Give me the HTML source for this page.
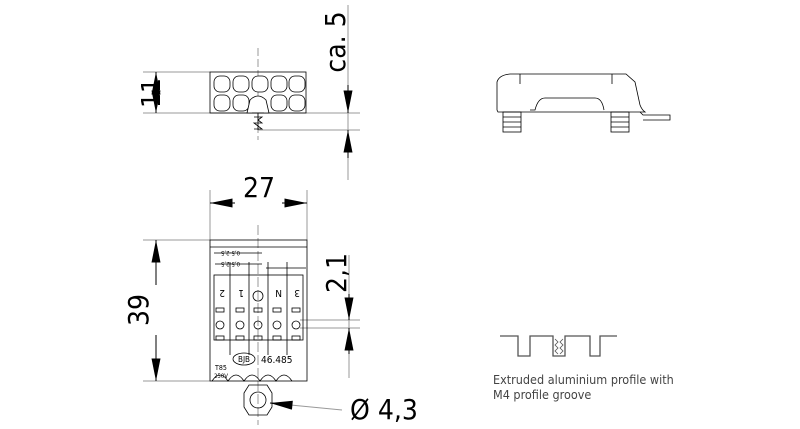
<!DOCTYPE html>
<html><head><meta charset="utf-8"><style>
html,body{margin:0;padding:0;background:#fff;}
svg{display:block;}
text{font-family:"DejaVu Sans Condensed","Liberation Sans",sans-serif;}
</style></head><body>
<svg width="800" height="429" viewBox="0 0 800 429" xmlns="http://www.w3.org/2000/svg">
<defs>
<marker id="a" viewBox="0 0 10 4" refX="10" refY="2" markerWidth="24" markerHeight="9" markerUnits="userSpaceOnUse" orient="auto"><path d="M0,0 L10,2 L0,4z" fill="#000"/></marker>
</defs>
<g stroke="#999" stroke-width="1" fill="none">
<line x1="143" y1="72" x2="210" y2="72"/>
<line x1="143" y1="113" x2="360" y2="113"/>
<line x1="258" y1="130" x2="360" y2="130"/>
<line x1="348" y1="5" x2="348" y2="180"/>
<line x1="258" y1="48" x2="258" y2="140" stroke-dasharray="8,3"/>
<line x1="210" y1="190" x2="210" y2="240"/>
<line x1="307" y1="190" x2="307" y2="240"/>
<line x1="143" y1="240" x2="210" y2="240"/>
<line x1="143" y1="381" x2="210" y2="381"/>
<line x1="349" y1="255" x2="349" y2="378"/>
<line x1="300" y1="320" x2="360" y2="320"/>
<line x1="300" y1="328" x2="360" y2="328"/>
<line x1="270" y1="403" x2="342" y2="410"/>
<line x1="258" y1="225" x2="258" y2="425" stroke-dasharray="10,3"/>
</g>
<g stroke="#000" stroke-width="1" fill="none">
<line x1="156" y1="90" x2="156" y2="72" marker-end="url(#a)"/>
<line x1="156" y1="95" x2="156" y2="113" marker-end="url(#a)"/>
<line x1="348" y1="85" x2="348" y2="113" marker-end="url(#a)"/>
<line x1="348" y1="158" x2="348" y2="130" marker-end="url(#a)"/>
<line x1="235" y1="203" x2="210" y2="203" marker-end="url(#a)"/>
<line x1="282" y1="203" x2="307" y2="203" marker-end="url(#a)"/>
<line x1="156" y1="285" x2="156" y2="240" marker-end="url(#a)"/>
<line x1="156" y1="335" x2="156" y2="381" marker-end="url(#a)"/>
<line x1="349" y1="294" x2="349" y2="320" marker-end="url(#a)"/>
<line x1="349" y1="354" x2="349" y2="328" marker-end="url(#a)"/>
<line x1="290" y1="405" x2="270" y2="403" marker-end="url(#a)"/>
</g>
<g stroke="#000" stroke-width="0.8" fill="none">
<rect x="210" y="72" width="96" height="41"/>
<g fill="#fff">
<rect x="214" y="76" width="16" height="16" rx="6"/><rect x="233" y="76" width="16" height="16" rx="6"/><rect x="252" y="76" width="16" height="16" rx="6"/><rect x="271" y="76" width="16" height="16" rx="6"/><rect x="289" y="76" width="16" height="16" rx="6"/>
<rect x="214" y="95" width="16" height="16" rx="6"/><rect x="233" y="95" width="16" height="16" rx="6"/><rect x="271" y="95" width="16" height="16" rx="6"/><rect x="289" y="95" width="16" height="16" rx="6"/>
<path d="M247,113 L250,100 Q258,92 266,100 L269,113z"/>
</g>
<path d="M252,113 h12 M254,117 l8,0 l-4,3 l4,3 l-8,0 l4,3 l4,3 l-8,0 M258,113 v17"/>
<rect x="210" y="240" width="97" height="141"/>
<path d="M210,247 h97 M214,253 h48 M215,264 h47 M266,268 h40"/>
<rect x="214" y="275" width="89" height="65"/>
<g>
<line x1="230" y1="262" x2="230" y2="355"/><line x1="249" y1="262" x2="249" y2="355"/><line x1="268" y1="262" x2="268" y2="355"/><line x1="287" y1="262" x2="287" y2="355"/>
<circle cx="220" cy="325" r="4"/><circle cx="240" cy="325" r="4"/><circle cx="258" cy="325" r="4"/><circle cx="277" cy="325" r="4"/><circle cx="296" cy="325" r="4"/>
<rect x="216" y="308" width="8" height="4"/><rect x="236" y="308" width="8" height="4"/><rect x="254" y="308" width="8" height="4"/><rect x="273" y="308" width="8" height="4"/><rect x="292" y="308" width="8" height="4"/>
<rect x="216" y="336" width="8" height="4"/><rect x="236" y="336" width="8" height="4"/><rect x="254" y="336" width="8" height="4"/><rect x="273" y="336" width="8" height="4"/><rect x="292" y="336" width="8" height="4"/>
<circle cx="258" cy="296" r="5"/>
<path d="M212,381 q8,-12 16,0 q8,-12 16,0 q8,-12 16,0 q8,-12 16,0 q8,-12 16,0"/>
<path d="M249,385 h18 l5,8 v14 l-5,8 h-18 l-5,-8 v-14z"/>
<circle cx="258" cy="400" r="8"/>
<ellipse cx="244" cy="359" rx="11" ry="6"/>
</g>
<path d="M497,110 V82 Q499,75 510,74 H626 L635,82 L640,105 Q642,110 645,112 H498z"/>
<path d="M530,110 H535 Q538,98 545,98 H595 Q602,98 604,110"/>
<path d="M640,112 L643,115 H670 V120 H643"/>
<rect x="503" y="112" width="18" height="20"/><rect x="611" y="112" width="18" height="20"/>
<path d="M503,117 h18 M503,122 h18 M503,127 h18 M611,117 h18 M611,122 h18 M611,127 h18"/>
<path d="M520,74 v10 M612,74 v10"/>
</g>
<path d="M500,336 H518 V356 H530 V336 H553 V356 H565 V336 H590 V356 H600 V336 H617" stroke="#555" stroke-width="1.3" fill="none"/>
<path d="M555,339 l3,3 -3,3 3,3 -3,3 3,3 M563,339 l-3,3 3,3 -3,3 3,3 -3,3" stroke="#555" stroke-width="0.8" fill="none"/>
<g font-size="7" fill="#000" stroke="none">
<text x="215" y="370">T85</text><text x="214" y="378" font-size="6">250V</text>
<text x="238" y="362" font-size="8">BJB</text>
<text x="261" y="363" font-size="10">46.485</text>
<text transform="translate(240,251) rotate(180)" font-size="6">0,5-2,5</text>
<text transform="translate(240,262) rotate(180)" font-size="6">0,5-2,5</text>
<text transform="translate(225,290) rotate(180)" font-size="10">2</text>
<text transform="translate(244,290) rotate(180)" font-size="10">1</text>
<text transform="translate(282,290) rotate(180)" font-size="10">N</text>
<text transform="translate(300,290) rotate(180)" font-size="10">3</text>
</g>
<g fill="#000" font-size="28">
<text x="243" y="197">27</text>
<text transform="translate(160,93) rotate(-90)" text-anchor="middle" font-size="26">11</text>
<text transform="translate(345,42) rotate(-90)" text-anchor="middle">ca. 5</text>
<text transform="translate(148,310) rotate(-90)" text-anchor="middle">39</text>
<text transform="translate(346,273) rotate(-90)" text-anchor="middle">2,1</text>
<text x="350" y="419">Ø 4,3</text>
</g>
<g fill="#444" font-size="12.5">
<text x="493" y="384">Extruded aluminium profile with</text>
<text x="493" y="399">M4 profile groove</text>
</g>
</svg>
</body></html>
